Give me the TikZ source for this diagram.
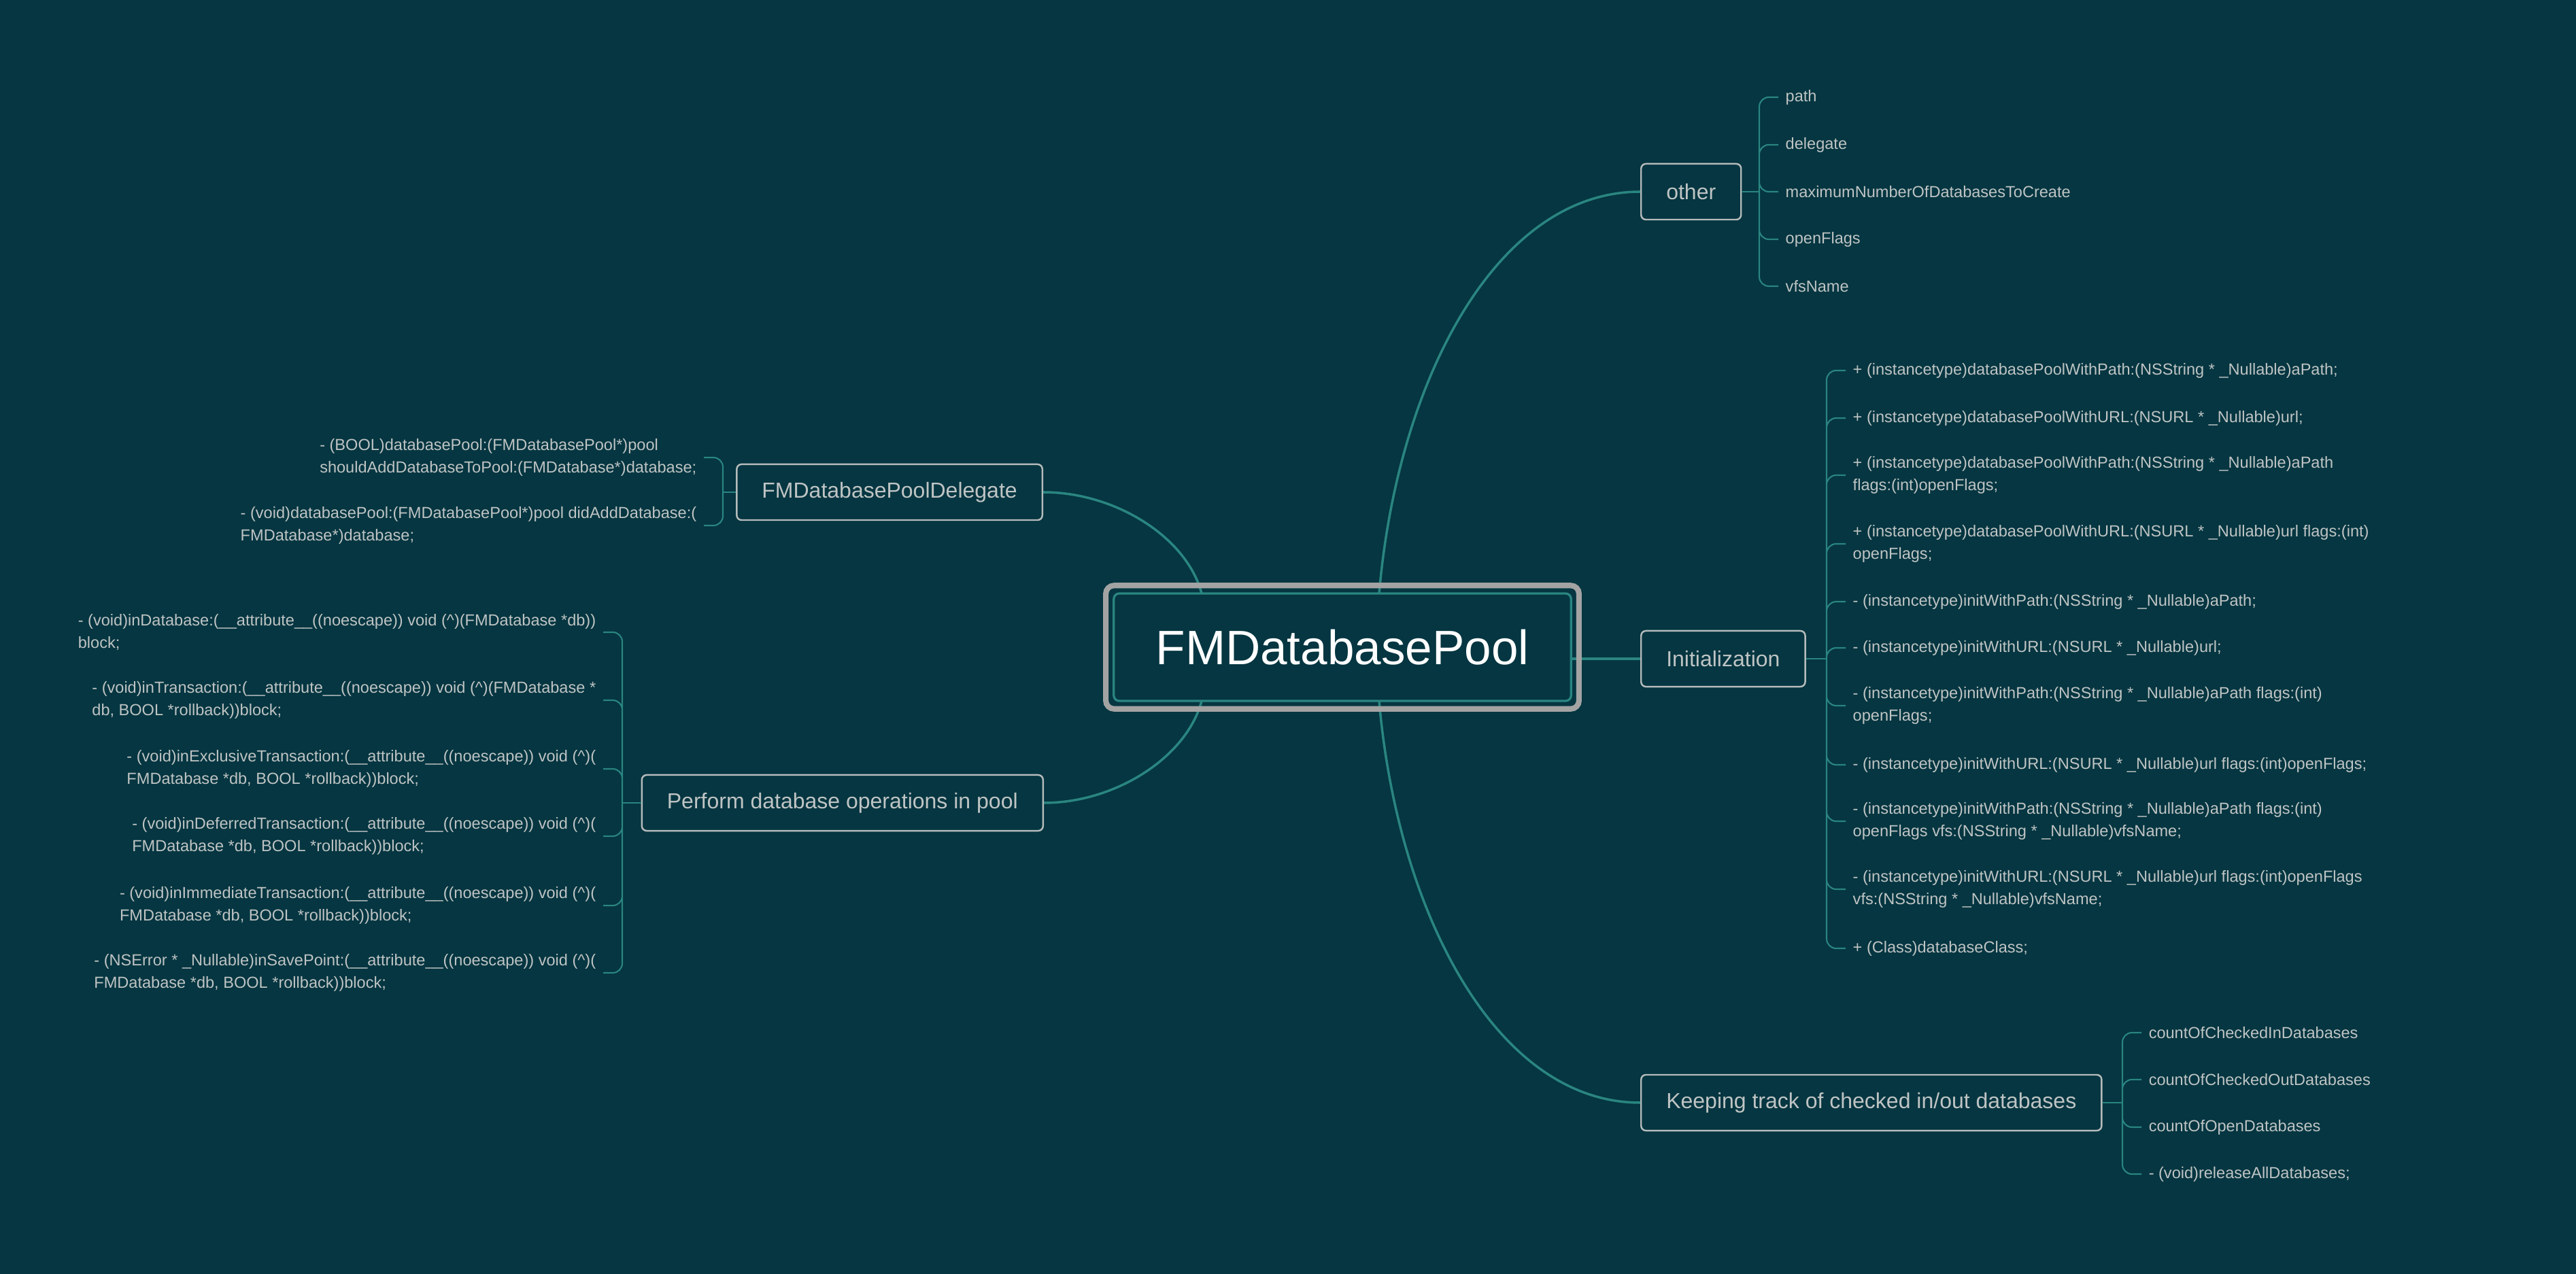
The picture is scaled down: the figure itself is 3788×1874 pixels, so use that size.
\documentclass[tikz,border=0pt]{standalone}
\usepackage{fontspec}
\setmainfont{Liberation Sans}
\usetikzlibrary{fit}
\definecolor{bgteal}{HTML}{053641}
\definecolor{linkteal}{HTML}{2A8580}
\definecolor{boxgrey}{HTML}{B5BBBB}
\definecolor{txtgrey}{HTML}{BFC4C4}
\definecolor{ringgrey}{HTML}{A3A3A3}

\begin{document}
\begin{tikzpicture}[x=0.01cm, y=-0.01cm,
    topic/.style={draw=boxgrey, line width=0.7pt, rounded corners=0.07cm, text=txtgrey,
      font=\fontsize{9.1}{11}\selectfont, minimum height=0.82cm, inner xsep=0.37cm},
    leaf/.style={text=txtgrey, font=\fontsize{6.7}{9.4}\selectfont, align=left,
      inner xsep=0.1cm, inner ysep=0.05cm},
    branch/.style={draw=linkteal, line width=1pt},
    twig/.style={draw=linkteal, line width=0.6pt, rounded corners=0.14cm}]
    \useasboundingbox (0,0) rectangle (3788,1874);
    \fill[bgteal] (0,0) rectangle (3788,1874);

    \node[draw=linkteal, line width=0.95pt, rounded corners=0.08cm, minimum width=6.72cm,
      minimum height=1.58cm, text=white, font=\fontsize{20.2}{24}\selectfont] (root) at (1974,952) {FMDatabasePool};

    \node[topic, anchor=west] (other) at (2412,282) {other};
    \node[topic, anchor=west] (init) at (2412,969) {Initialization};
    \node[topic, anchor=west] (track) at (2412,1622) {Keeping track of checked in/out databases};
    \node[topic, anchor=east] (delegate) at (1534,724) {FMDatabasePoolDelegate};
    \node[topic, anchor=east] (perform) at (1535,1181) {Perform database operations in pool};

    \coordinate (rootUR) at (2028,873);
    \coordinate (rootDR) at (2028,1031);
    \coordinate (rootUL) at (1767,873);
    \coordinate (rootDL) at (1767,1031);
    \draw[branch] (rootUR) .. controls (2055,560) and (2200,282) .. (other.west);
    \draw[branch] (rootDR) .. controls (2055,1342) and (2200,1622) .. (track.west);
    \draw[branch] (root.east |- init) -- (init);
    \draw[branch] (rootUL) .. controls (1745,790) and (1640,724) .. (delegate.east);
    \draw[branch] (rootDL) .. controls (1745,1114) and (1640,1181) .. (perform.east);
    \node[draw=ringgrey, line width=2.3pt, rounded corners=0.12cm, fit=(root), inner sep=0.1cm] (ring) {};

    % other
    \coordinate (oj) at (2587,282);
    \draw[twig] (other) -- (oj);
    \node[leaf, anchor=west] (o1) at (2615,143) {path};
    \node[leaf, anchor=west] (o2) at (2615,213) {delegate};
    \node[leaf, anchor=west] (o3) at (2615,282) {maximumNumberOfDatabasesToCreate};
    \node[leaf, anchor=west] (o4) at (2615,352) {openFlags};
    \node[leaf, anchor=west] (o5) at (2615,421) {vfsName};
    \draw[twig] (oj) |- (o1.west) (oj) |- (o2.west) (oj) |- (o3.west) (oj) |- (o4.west) (oj) |- (o5.west);

    % Initialization
    \coordinate (ij) at (2686,969);
    \draw[twig] (init) -- (ij);
    \node[leaf, anchor=west] (i1) at (2714,545) {+ (instancetype)databasePoolWithPath:(NSString * \_Nullable)aPath;};
    \node[leaf, anchor=west] (i2) at (2714,615) {+ (instancetype)databasePoolWithURL:(NSURL * \_Nullable)url;};
    \node[leaf, anchor=west] (i3) at (2714,699) {+ (instancetype)databasePoolWithPath:(NSString * \_Nullable)aPath\\flags:(int)openFlags;};
    \node[leaf, anchor=west] (i4) at (2714,800) {+ (instancetype)databasePoolWithURL:(NSURL * \_Nullable)url flags:(int)\\openFlags;};
    \node[leaf, anchor=west] (i5) at (2714,885) {- (instancetype)initWithPath:(NSString * \_Nullable)aPath;};
    \node[leaf, anchor=west] (i6) at (2714,953) {- (instancetype)initWithURL:(NSURL * \_Nullable)url;};
    \node[leaf, anchor=west] (i7) at (2714,1038) {- (instancetype)initWithPath:(NSString * \_Nullable)aPath flags:(int)\\openFlags;};
    \node[leaf, anchor=west] (i8) at (2714,1125) {- (instancetype)initWithURL:(NSURL * \_Nullable)url flags:(int)openFlags;};
    \node[leaf, anchor=west] (i9) at (2714,1208) {- (instancetype)initWithPath:(NSString * \_Nullable)aPath flags:(int)\\openFlags vfs:(NSString * \_Nullable)vfsName;};
    \node[leaf, anchor=west] (i10) at (2714,1308) {- (instancetype)initWithURL:(NSURL * \_Nullable)url flags:(int)openFlags\\vfs:(NSString * \_Nullable)vfsName;};
    \node[leaf, anchor=west] (i11) at (2714,1395) {+ (Class)databaseClass;};
    \draw[twig] (ij) |- (i1.west) (ij) |- (i2.west) (ij) |- (i3.west) (ij) |- (i4.west) (ij) |- (i5.west) (ij) |- (i6.west)
      (ij) |- (i7.west) (ij) |- (i8.west) (ij) |- (i9.west) (ij) |- (i10.west) (ij) |- (i11.west);

    % Keeping track
    \coordinate (tj) at (3121,1622);
    \draw[twig] (track) -- (tj);
    \node[leaf, anchor=west] (t1) at (3149,1519) {countOfCheckedInDatabases};
    \node[leaf, anchor=west] (t2) at (3149,1588) {countOfCheckedOutDatabases};
    \node[leaf, anchor=west] (t3) at (3149,1658) {countOfOpenDatabases};
    \node[leaf, anchor=west] (t4) at (3149,1727) {- (void)releaseAllDatabases;};
    \draw[twig] (tj) |- (t1.west) (tj) |- (t2.west) (tj) |- (t3.west) (tj) |- (t4.west);

    % delegate
    \coordinate (dj) at (1063,724);
    \draw[twig] (delegate) -- (dj);
    \node[leaf, anchor=east] (d1) at (1035,673) {- (BOOL)databasePool:(FMDatabasePool*)pool\\shouldAddDatabaseToPool:(FMDatabase*)database;};
    \node[leaf, anchor=east] (d2) at (1035,773) {- (void)databasePool:(FMDatabasePool*)pool didAddDatabase:(\\FMDatabase*)database;};
    \draw[twig] (dj) |- (d1.east) (dj) |- (d2.east);

    % perform
    \coordinate (pj) at (915,1181);
    \draw[twig] (perform) -- (pj);
    \node[leaf, anchor=east] (p1) at (887,930) {- (void)inDatabase:(\_\_attribute\_\_((noescape)) void (\textasciicircum)(FMDatabase *db))\\block;};
    \node[leaf, anchor=east] (p2) at (887,1030) {- (void)inTransaction:(\_\_attribute\_\_((noescape)) void (\textasciicircum)(FMDatabase *\\db, BOOL *rollback))block;};
    \node[leaf, anchor=east] (p3) at (887,1131) {- (void)inExclusiveTransaction:(\_\_attribute\_\_((noescape)) void (\textasciicircum)(\\FMDatabase *db, BOOL *rollback))block;};
    \node[leaf, anchor=east] (p4) at (887,1230) {- (void)inDeferredTransaction:(\_\_attribute\_\_((noescape)) void (\textasciicircum)(\\FMDatabase *db, BOOL *rollback))block;};
    \node[leaf, anchor=east] (p5) at (887,1332) {- (void)inImmediateTransaction:(\_\_attribute\_\_((noescape)) void (\textasciicircum)(\\FMDatabase *db, BOOL *rollback))block;};
    \node[leaf, anchor=east] (p6) at (887,1431) {- (NSError * \_Nullable)inSavePoint:(\_\_attribute\_\_((noescape)) void (\textasciicircum)(\\FMDatabase *db, BOOL *rollback))block;};
    \draw[twig] (pj) |- (p1.east) (pj) |- (p2.east) (pj) |- (p3.east) (pj) |- (p4.east) (pj) |- (p5.east) (pj) |- (p6.east);
\end{tikzpicture}
\end{document}
